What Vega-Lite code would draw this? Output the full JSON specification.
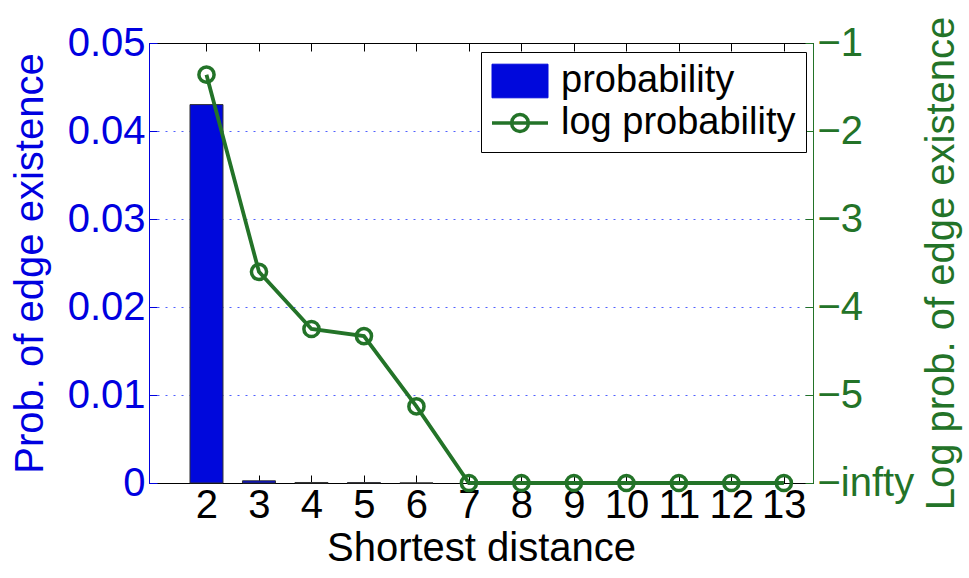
{
  "$schema": "https://vega.github.io/schema/vega-lite/v6.json",
  "width": 664,
  "height": 440,
  "autosize": "none",
  "padding": {"left": 149, "top": 43, "right": 156, "bottom": 95},
  "background": "white",
  "config": {
    "font": "Liberation Sans",
    "view": {"stroke": "black", "strokeWidth": 1},
    "axis": {
      "labelFont": "Liberation Sans",
      "titleFont": "Liberation Sans",
      "titleFontWeight": "normal",
      "labelFontSize": 40,
      "titleFontSize": 40,
      "grid": false,
      "tickSize": -8,
      "tickWidth": 1,
      "domainWidth": 1
    },
    "legend": {"labelFont": "Liberation Sans"}
  },
  "data": {
    "values": [
      {"d": 2, "prob": 0.043, "logp": -1.36},
      {"d": 3, "prob": 0.00025, "logp": -3.6},
      {"d": 4, "prob": 0.000057, "logp": -4.25},
      {"d": 5, "prob": 0.000047, "logp": -4.33},
      {"d": 6, "prob": 0.0000074, "logp": -5.13},
      {"d": 7, "prob": 0, "logp": -6},
      {"d": 8, "prob": 0, "logp": -6},
      {"d": 9, "prob": 0, "logp": -6},
      {"d": 10, "prob": 0, "logp": -6},
      {"d": 11, "prob": 0, "logp": -6},
      {"d": 12, "prob": 0, "logp": -6},
      {"d": 13, "prob": 0, "logp": -6}
    ]
  },
  "layer": [
    {
      "transform": [{"filter": "datum.prob > 0"}],
      "mark": {"type": "bar", "size": 33, "stroke": "#333333", "strokeWidth": 1},
      "encoding": {
        "x": {
          "field": "d",
          "type": "quantitative",
          "scale": {"domain": [1, 13.46], "nice": false, "zero": false},
          "axis": {
            "orient": "bottom",
            "values": [2, 3, 4, 5, 6, 7, 8, 9, 10, 11, 12, 13],
            "title": "Shortest distance",
            "labelColor": "black",
            "titleColor": "black",
            "domainColor": "black",
            "tickColor": "black",
            "labelPadding": 10,
            "titlePadding": 3,
            "labelFlush": false,
            "labelOverlap": false
          }
        },
        "y": {
          "field": "prob",
          "type": "quantitative",
          "scale": {"domain": [0, 0.05], "nice": false},
          "axis": {
            "orient": "left",
            "values": [0, 0.01, 0.02, 0.03, 0.04, 0.05],
            "labelExpr": "datum.value == 0 ? '0' : format(datum.value, '.2f')",
            "title": "Prob. of edge existence",
            "labelColor": "#0000e0",
            "titleColor": "#0000e0",
            "domainColor": "#0000e0",
            "tickColor": "#0000e0",
            "labelPadding": 12,
            "titlePadding": 17,
            "grid": true,
            "gridColor": "#4f5fff",
            "gridOpacity": 1,
            "gridDash": [2, 6],
            "gridWidth": 1,
            "labelFlush": false,
            "labelOverlap": false
          }
        },
        "color": {
          "datum": "probability",
          "type": "nominal",
          "scale": {"domain": ["probability", "log probability"], "range": ["#0008dc", "#237328"]},
          "legend": {
            "title": null,
            "orient": "none",
            "legendX": 332,
            "legendY": 9,
            "padding": 10,
            "strokeColor": "black",
            "fillColor": "white",
            "labelFontSize": 38,
            "labelColor": "black",
            "labelLimit": 400,
            "labelOffset": 22,
            "symbolOffset": 10,
            "symbolSize": 3136,
            "rowPadding": 4,
            "encode": {
              "symbols": {
                "update": {
                  "shape": {"signal": "datum.value === 'probability' ? 'M-1,-0.6H1V0.6H-1Z' : 'M-1,0H1M0.3,0A0.3,0.3 0 1,1 -0.3,0A0.3,0.3 0 1,1 0.3,0'"},
                  "fill": {"signal": "datum.value === 'probability' ? '#0008dc' : 'transparent'"},
                  "fillOpacity": {"signal": "datum.value === 'probability' ? 1 : 0"},
                  "stroke": {"signal": "datum.value === 'probability' ? '#333333' : '#237328'"},
                  "strokeWidth": {"signal": "datum.value === 'probability' ? 1 : 3.5"},
                  "opacity": {"value": 1}
                }
              }
            }
          }
        }
      }
    },
    {
      "encoding": {
        "x": {
          "field": "d",
          "type": "quantitative",
          "axis": {
            "orient": "top",
            "values": [2, 3, 4, 5, 6, 7, 8, 9, 10, 11, 12, 13],
            "labels": false,
            "title": null,
            "domainColor": "black",
            "tickColor": "black"
          }
        },
        "y": {
          "field": "logp",
          "type": "quantitative",
          "scale": {"domain": [-6, -1], "nice": false, "zero": false},
          "axis": {
            "orient": "right",
            "values": [-6, -5, -4, -3, -2, -1],
            "labelExpr": "datum.value == -6 ? '\u2212infty' : '\u2212' + abs(datum.value)",
            "title": "Log prob. of edge existence",
            "titleAngle": 270,
            "titleBaseline": "top",
            "labelColor": "#237328",
            "titleColor": "#237328",
            "domainColor": "#237328",
            "tickColor": "#237328",
            "labelPadding": 12,
            "titlePadding": 8,
            "labelFlush": false,
            "labelOverlap": false
          }
        },
        "color": {
          "datum": "log probability",
          "type": "nominal",
          "legend": {
            "title": null,
            "orient": "none",
            "legendX": 332,
            "legendY": 9,
            "padding": 10,
            "strokeColor": "black",
            "fillColor": "white",
            "labelFontSize": 38,
            "labelColor": "black",
            "labelLimit": 400,
            "labelOffset": 22,
            "symbolOffset": 10,
            "symbolSize": 3136,
            "rowPadding": 4,
            "encode": {
              "symbols": {
                "update": {
                  "shape": {"signal": "datum.value === 'probability' ? 'M-1,-0.6H1V0.6H-1Z' : 'M-1,0H1M0.3,0A0.3,0.3 0 1,1 -0.3,0A0.3,0.3 0 1,1 0.3,0'"},
                  "fill": {"signal": "datum.value === 'probability' ? '#0008dc' : 'transparent'"},
                  "fillOpacity": {"signal": "datum.value === 'probability' ? 1 : 0"},
                  "stroke": {"signal": "datum.value === 'probability' ? '#333333' : '#237328'"},
                  "strokeWidth": {"signal": "datum.value === 'probability' ? 1 : 3.5"},
                  "opacity": {"value": 1}
                }
              }
            }
          }
        }
      },
      "layer": [
        {"mark": {"type": "line", "strokeWidth": 3.8}},
        {"mark": {"type": "point", "filled": false, "size": 230, "strokeWidth": 3.5, "opacity": 1}}
      ]
    }
  ],
  "resolve": {"scale": {"y": "independent"}, "axis": {"x": "independent"}}
}
